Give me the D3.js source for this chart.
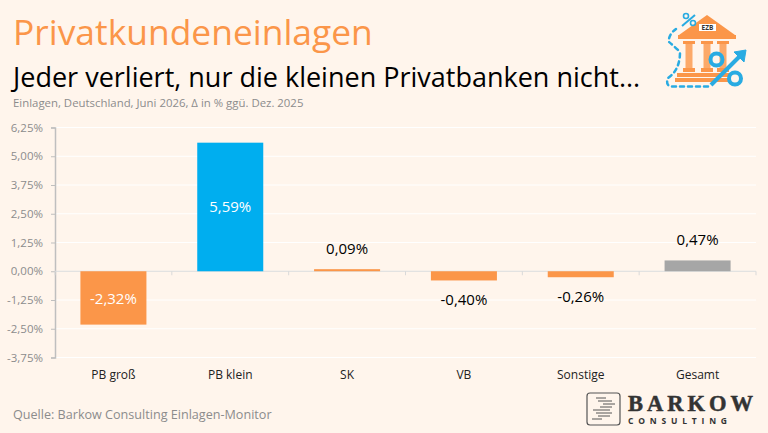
<!DOCTYPE html>
<html>
<head>
<meta charset="utf-8">
<script src="https://cdn.jsdelivr.net/npm/d3@7"></script>
<style>
html, body { margin: 0; padding: 0; background: #fff5ec; overflow: hidden; }
text { font-family: "Open Sans", sans-serif; }
</style>
</head>
<body>
<div id="chart"></div>
<script>
const categories = ["PB groß", "PB klein", "SK", "VB", "Sonstige", "Gesamt"];
const values = [-2.32, 5.59, 0.09, -0.40, -0.26, 0.47];
const barColors = ["#fb9649", "#00aeef", "#fb9649", "#fb9649", "#fb9649", "#a6a6a6"];
const tickValues = [6.25, 5, 3.75, 2.5, 1.25, 0, -1.25, -2.5, -3.75];

const fmt = (v) => v.toFixed(2).replace(".", ",") + "%";

const svg = d3.select("#chart").append("svg").attr("width", 768).attr("height", 433);

svg.append("rect").attr("width", 768).attr("height", 433).attr("fill", "#fff5ec");

// titel
svg.append("text").attr("x", 13).attr("y", 45).attr("font-size", 35.4).attr("fill", "#fb9649").text("Privatkundeneinlagen");
svg.append("text").attr("x", 13).attr("y", 87).attr("font-size", 27).attr("fill", "#000").text("Jeder verliert, nur die kleinen Privatbanken nicht...");
svg.append("text").attr("x", 13).attr("y", 107).attr("font-size", 11.4).attr("fill", "#8c8c8c").text("Einlagen, Deutschland, Juni 2026, Δ in % ggü. Dez. 2025");
svg.append("text").attr("x", 13).attr("y", 419).attr("font-size", 12.6).attr("fill", "#8c8c8c").text("Quelle: Barkow Consulting Einlagen-Monitor");

const x = d3.scaleBand().domain(categories).range([55, 756]).paddingInner(0.435).paddingOuter(0.2175);
const y = d3.scaleLinear().domain([-3.75, 6.25]).range([357.5, 127.5]);
const step = x.step();

// gitterlinien
svg.append("g").selectAll("line").data(tickValues).enter().append("line")
  .attr("x1", 55).attr("x2", 756)
  .attr("y1", (d) => y(d)).attr("y2", (d) => y(d))
  .attr("stroke", "#ffffff").attr("stroke-width", 1);

const yAxis = svg.append("g").attr("transform", "translate(55,0)")
  .call(d3.axisLeft(y).tickValues(tickValues).tickFormat(fmt).tickSize(4).tickPadding(8));
yAxis.select(".domain").attr("stroke", "#bfbfbf").attr("stroke-width", 1.5);
yAxis.selectAll(".tick line").attr("stroke", "#bfbfbf");
yAxis.selectAll("text").attr("font-size", 11.5).attr("fill", "#8c8c8c").style("font-family", '"Open Sans", sans-serif');

// nulllinie
svg.append("line").attr("x1", 55).attr("x2", 756).attr("y1", y(0)).attr("y2", y(0))
  .attr("stroke", "#d9d9d9").attr("stroke-width", 1);
svg.append("g").selectAll("line").data(d3.range(categories.length + 1)).enter().append("line")
  .attr("x1", (i) => 55 + i * step).attr("x2", (i) => 55 + i * step)
  .attr("y1", y(0)).attr("y2", y(0) + 4)
  .attr("stroke", "#d9d9d9");

svg.append("g").selectAll("rect").data(values).enter().append("rect")
  .attr("x", (d, i) => x(categories[i]))
  .attr("width", x.bandwidth())
  .attr("y", (d) => y(Math.max(d, 0)))
  .attr("height", (d) => Math.abs(y(d) - y(0)))
  .attr("fill", (d, i) => barColors[i]);

// werte: grosse balken innen, kleine aussen
svg.append("g").selectAll("text").data(values).enter().append("text")
  .attr("x", (d, i) => x(categories[i]) + x.bandwidth() / 2)
  .attr("y", (d) => {
    if (Math.abs(d) > 2) return y(d / 2) + 5 + (d < 0 ? 1 : 0);
    return d > 0 ? y(d) - 15 : y(d) + 25;
  })
  .attr("text-anchor", "middle")
  .attr("font-size", 15)
  .attr("fill", (d) => (Math.abs(d) > 2 ? "#ffffff" : "#000000"))
  .text(fmt);

svg.append("g").selectAll("text").data(categories).enter().append("text")
  .attr("x", (d) => x(d) + x.bandwidth() / 2)
  .attr("y", 379)
  .attr("text-anchor", "middle")
  .attr("font-size", 12)
  .attr("fill", "#222")
  .text((d) => d);

// ezb symbol
const icon = svg.append("g").attr("fill", "#fb9649");
icon.append("path").attr("d", "M707 15 L735 35 L679 35 Z");
icon.append("rect").attr("x", 678).attr("y", 35).attr("width", 58).attr("height", 4);
[689, 707, 723].forEach((cx) => {
  icon.append("rect").attr("x", cx - 6).attr("y", 41).attr("width", 12).attr("height", 3);
  icon.append("rect").attr("x", cx - 3.5).attr("y", 44).attr("width", 7).attr("height", 24).attr("opacity", 0.8);
  icon.append("rect").attr("x", cx - 6).attr("y", 68).attr("width", 12).attr("height", 4);
});
icon.append("rect").attr("x", 677).attr("y", 73).attr("width", 53).attr("height", 4);
icon.append("rect").attr("x", 675).attr("y", 78).attr("width", 55).attr("height", 4);
svg.append("rect").attr("x", 699).attr("y", 24).attr("width", 17).attr("height", 7).attr("fill", "#fff");
svg.append("text").attr("x", 707.5).attr("y", 30).attr("text-anchor", "middle")
  .attr("font-size", 6.5).attr("font-weight", "bold").attr("fill", "#333").text("EZB");

const blue = svg.append("g").attr("fill", "none").attr("stroke", "#29abe2");
blue.append("path").attr("d", "M708 86.5 H672 Q665 86 668 78 Q680 70 680 52 Q674 46 669 42 Q668 35 676 29")
  .attr("stroke-width", 2.5).attr("stroke-dasharray", "4 4").attr("stroke-linecap", "round");
blue.append("path").attr("d", "M711 85 L742 54").attr("stroke-width", 4);
blue.append("circle").attr("cx", 716.5).attr("cy", 59.5).attr("r", 6).attr("stroke-width", 4);
blue.append("circle").attr("cx", 735).attr("cy", 78.5).attr("r", 6).attr("stroke-width", 4);
blue.append("path").attr("d", "M734 52 L746 50 L744 62 Z").attr("fill", "#29abe2").attr("stroke-width", 1);
blue.append("path").attr("d", "M695 15 L682 26").attr("stroke-width", 2);
blue.append("circle").attr("cx", 686).attr("cy", 16).attr("r", 2.5).attr("stroke-width", 1.6);
blue.append("circle").attr("cx", 693).attr("cy", 23).attr("r", 2.5).attr("stroke-width", 1.6);

// logo
const logo = svg.append("g");
logo.append("rect").attr("x", 587).attr("y", 393).attr("width", 33).attr("height", 32).attr("rx", 3)
  .attr("fill", "none").attr("stroke", "#555").attr("stroke-width", 1.2);
[[596, 606, 398], [598, 612, 401], [603, 615, 404], [600, 612, 407], [593, 610, 410], [596, 612, 413], [598, 610, 416], [592, 602, 419]].forEach((l) => {
  logo.append("line").attr("x1", l[0]).attr("x2", l[1]).attr("y1", l[2]).attr("y2", l[2]).attr("stroke", "#555").attr("stroke-width", 1);
});
logo.append("text").attr("x", 628).attr("y", 410.5).attr("font-size", 22.5).attr("font-weight", "bold")
  .attr("fill", "#333").attr("stroke", "#333").attr("stroke-width", 0.5)
  .attr("textLength", 125).style("font-family", '"Liberation Serif", serif').text("BARKOW");
logo.append("text").attr("x", 628).attr("y", 423.5).attr("font-size", 8.5).attr("font-weight", "bold")
  .attr("fill", "#333").attr("textLength", 99).text("CONSULTING");
</script>
</body>
</html>
